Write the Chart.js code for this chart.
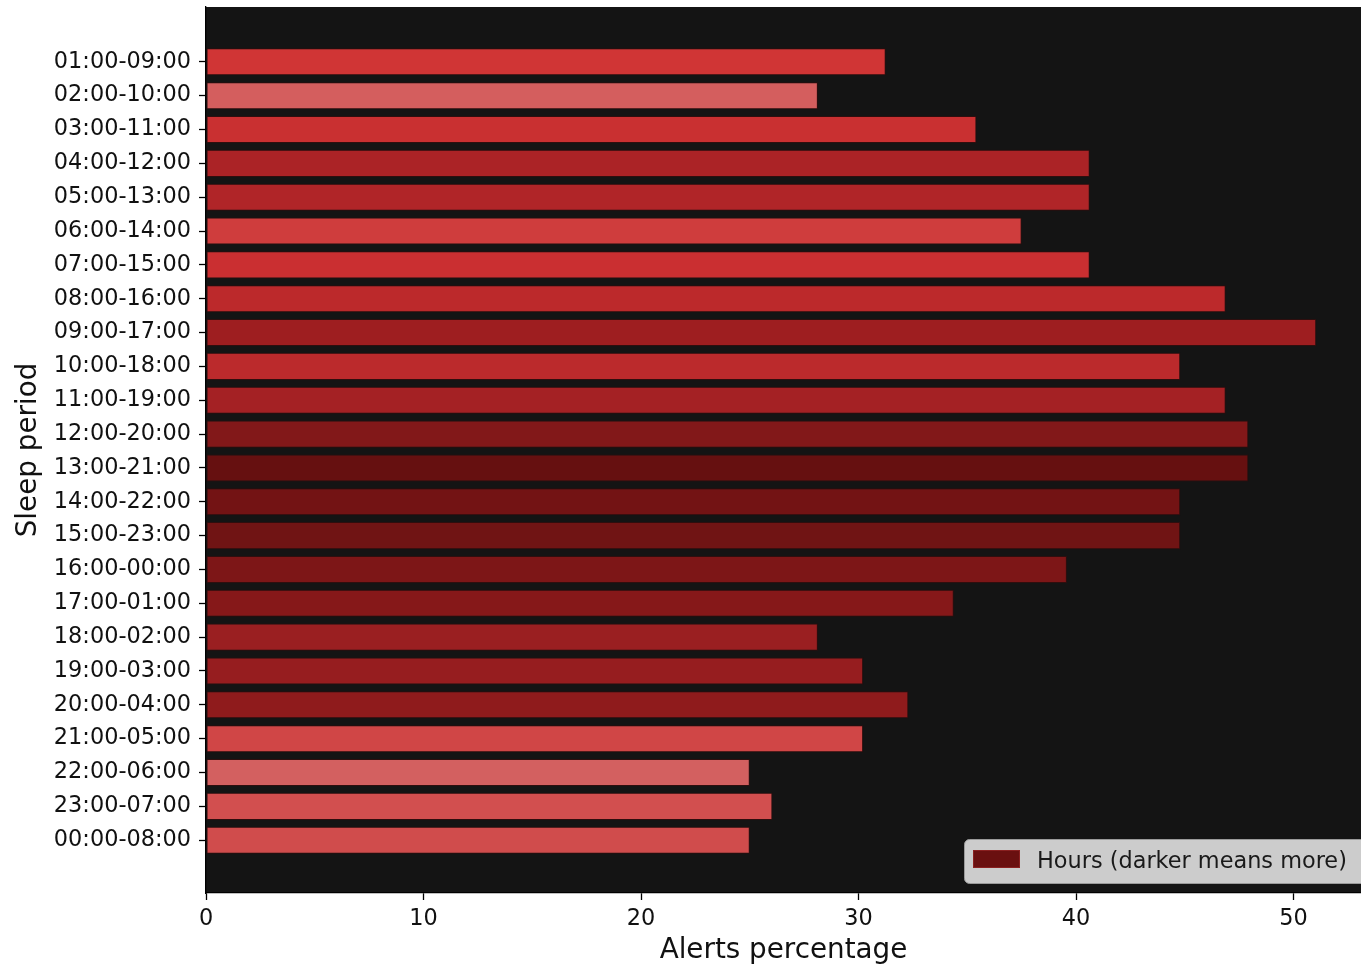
<!DOCTYPE html>
<html>
<head>
<meta charset="utf-8">
<script src="https://cdn.jsdelivr.net/npm/chart.js@4/dist/chart.umd.min.js"></script>
<style>
  html, body { margin: 0; padding: 0; background: #ffffff; }
  #wrap { width: 1361px; height: 967px; }
</style>
</head>
<body>
<div id="wrap"><canvas id="sleepChart" width="1361" height="967"></canvas></div>
<script>
// data
const periods = ['01:00-09:00', '02:00-10:00', '03:00-11:00', '04:00-12:00', '05:00-13:00', '06:00-14:00',
    '07:00-15:00', '08:00-16:00', '09:00-17:00', '10:00-18:00', '11:00-19:00', '12:00-20:00',
    '13:00-21:00', '14:00-22:00', '15:00-23:00', '16:00-00:00', '17:00-01:00', '18:00-02:00',
    '19:00-03:00', '20:00-04:00', '21:00-05:00', '22:00-06:00', '23:00-07:00', '00:00-08:00'];
const alertsPct = [31.25, 28.13, 35.42, 40.63, 40.63, 37.5, 40.63, 46.88, 51.04, 44.79, 46.88, 47.92,
    47.92, 44.79, 44.79, 39.58, 34.38, 28.13, 30.21, 32.29, 30.21, 25.0, 26.04, 25.0];
const xTicks = [0, 10, 20, 30, 40, 50];
const legendLabel = 'Hours (darker means more)';

// colours per bar (darker = more hours)
const barColors = ['#d03535', '#d45e5e', '#c93031', '#ab2326', '#b02528', '#cf3d3d', '#ca2f31', '#bc292b',
    '#9e1e20', '#bb2a2c', '#a42124', '#821819', '#661010', '#731314', '#701414', '#7d1617',
    '#861819', '#9a1f21', '#961d1f', '#8f1b1c', '#d04646', '#d36060', '#d24f4f', '#d04c4c'];

const FONT = 'DejaVu Sans';

// dark plotting area
const plotBg = {
    id: 'plotBg',
    beforeDraw(chart) {
        const a = chart.chartArea, ctx = chart.ctx;
        ctx.save();
        ctx.fillStyle = '#141414';
        ctx.fillRect(a.left, a.top, a.right - a.left, a.bottom - a.top);
        ctx.restore();
    }
};

// legend box in the lower right corner of the plot
const cornerLegend = {
    id: 'cornerLegend',
    afterDraw(chart) {
        const a = chart.chartArea, ctx = chart.ctx;
        const x = 964, w = a.right - 964 + 6, h = 44, y = a.bottom - 10 - h;
        ctx.save();
        ctx.fillStyle = '#cccccc';
        ctx.strokeStyle = '#9a9a9a';
        ctx.lineWidth = 1;
        ctx.beginPath();
        ctx.roundRect(x + 0.5, y + 0.5, w, h, 5);
        ctx.fill();
        ctx.stroke();
        ctx.fillStyle = '#6a1010';
        ctx.fillRect(x + 9, y + 11, 47, 18);
        ctx.strokeStyle = '#8a2020';
        ctx.strokeRect(x + 9.5, y + 11.5, 46, 17);
        ctx.fillStyle = '#1a1a1a';
        ctx.font = '22.4px "' + FONT + '"';
        ctx.textBaseline = 'middle';
        ctx.fillText(legendLabel, x + 73, y + h / 2 + 1);
        ctx.restore();
    }
};

const chart = new Chart(document.getElementById('sleepChart'), {
    type: 'bar',
    data: {
        datasets: [{
            label: legendLabel,
            data: alertsPct.map((v, i) => ({ x: v, y: i })),
            backgroundColor: barColors,
            borderColor: 'rgba(70, 10, 10, 0.55)',
            borderWidth: 1,
            borderSkipped: false,
            barPercentage: 0.8,
            categoryPercentage: 1
        }]
    },
    options: {
        indexAxis: 'y',
        responsive: false,
        animation: false,
        layout: { padding: { left: 0, top: 7, right: 0, bottom: 0 } },
        plugins: {
            legend: { display: false },
            tooltip: { enabled: false }
        },
        scales: {
            x: {
                type: 'linear',
                min: 0,
                max: 53.1,
                afterBuildTicks: axis => { axis.ticks = xTicks.map(v => ({ value: v })); },
                ticks: { color: '#111', font: { family: FONT, size: 22.4 }, padding: 6 },
                grid: { drawOnChartArea: false, color: '#000', tickLength: 7, tickWidth: 1.3 },
                border: { color: '#000', width: 1.3 },
                title: {
                    display: true, text: 'Alerts percentage', color: '#111',
                    font: { family: FONT, size: 27.8 }, padding: { top: 8, bottom: 0 }
                },
                afterFit: axis => { axis.height = 74; axis.paddingLeft = 0; axis.paddingRight = 0; }
            },
            y: {
                type: 'linear',
                reverse: true,
                offset: false,
                min: -1.62,
                max: periods.length - 1 + 1.56,
                afterBuildTicks: axis => { axis.ticks = periods.map((p, i) => ({ value: i })); },
                ticks: {
                    color: '#111', font: { family: FONT, size: 22.4 }, padding: 8,
                    callback: v => periods[v]
                },
                grid: { offset: false, drawOnChartArea: false, color: '#000', tickLength: 7, tickWidth: 1.3 },
                border: { color: '#000', width: 1.3 },
                title: {
                    display: true, text: 'Sleep period', color: '#111',
                    font: { family: FONT, size: 27.8 }, padding: { top: 12, bottom: 0 }
                },
                afterFit: axis => { axis.width = 206; axis.paddingTop = 0; axis.paddingBottom = 0; }
            }
        }
    },
    plugins: [plotBg, cornerLegend]
});
</script>
</body>
</html>
